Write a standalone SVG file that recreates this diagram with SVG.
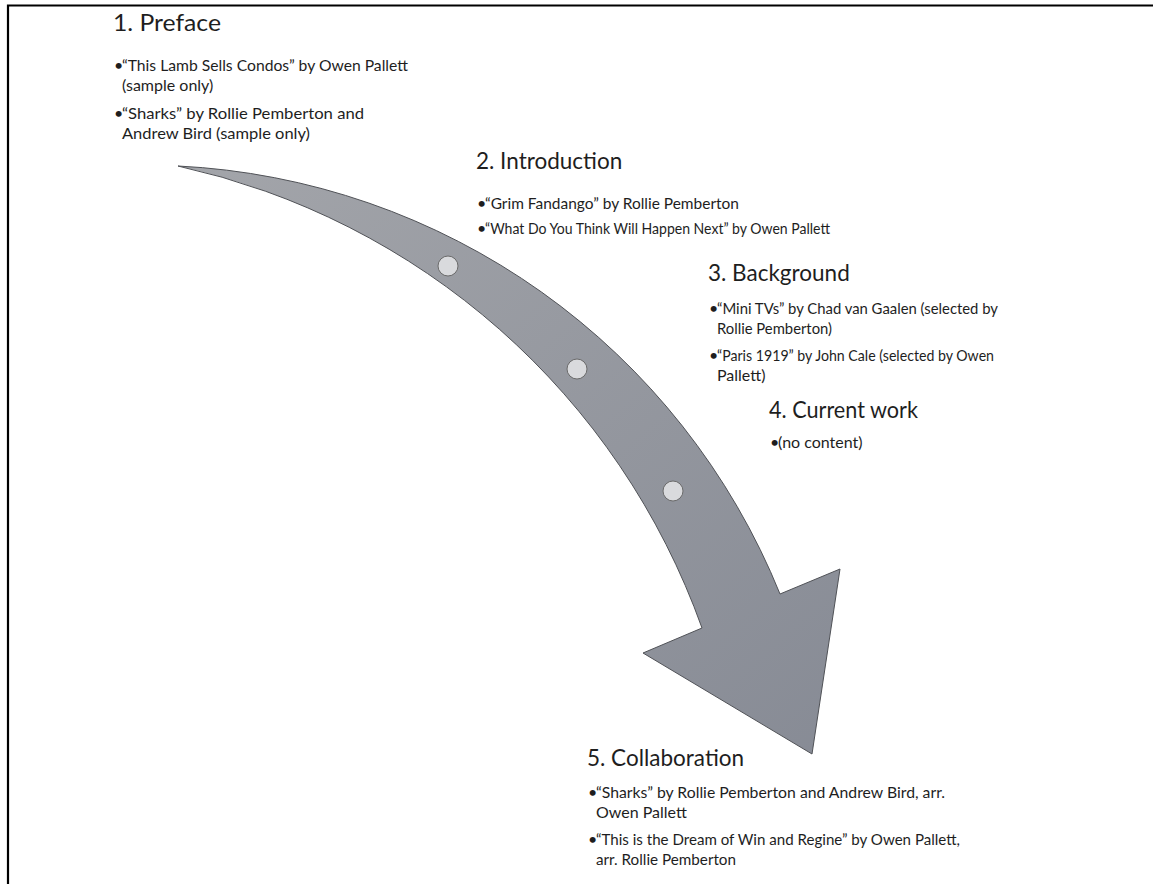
<svg xmlns="http://www.w3.org/2000/svg" width="1153" height="884" viewBox="0 0 1153 884">
<defs>
<linearGradient id="g" x1="0" y1="0" x2="1" y2="1">
<stop offset="0" stop-color="#a3a5aa"/>
<stop offset="1" stop-color="#878b95"/>
</linearGradient>
<style>
.t{font-family:Lato,"Liberation Sans",sans-serif;font-size:22.5px;fill:#1e1e1e}
.b{font-family:Lato,"Liberation Sans",sans-serif;font-size:16px;fill:#1e1e1e}
.s{font-size:15.2px}
.dot{fill:#d9dadd;stroke:#6b6b6b;stroke-width:1}
</style>
</defs>
<rect width="1153" height="884" fill="#fff"/>
<path d="M8,884 V5.5 H1153" fill="none" stroke="#000" stroke-width="2.2"/>
<g id="connectors">
<path id="arrow" d="M178,166 A686,686 0 0 1 780,594 L840,569 L812,754 L643,653 L702,628 A722,722 0 0 0 178,166 Z" fill="url(#g)" stroke="#505257" stroke-width="1"/>
<circle class="dot" cx="448" cy="266" r="10"/>
<circle class="dot" cx="577" cy="369" r="10"/>
<circle class="dot" cx="673" cy="491" r="10"/>
</g>
<g id="n1">
<text class="t" x="113" y="31" textLength="108" lengthAdjust="spacingAndGlyphs">1. Preface</text>
<text class="b" x="114" y="71">•</text><text class="b" x="122" y="71" textLength="286" lengthAdjust="spacingAndGlyphs">“This Lamb Sells Condos” by Owen Pallett</text>
<text class="b" x="122" y="91">(sample only)</text>
<text class="b" x="114" y="119">•</text><text class="b" x="122" y="119" textLength="242" lengthAdjust="spacingAndGlyphs">“Sharks” by Rollie Pemberton and</text>
<text class="b" x="122" y="139" textLength="188" lengthAdjust="spacingAndGlyphs">Andrew Bird (sample only)</text>
</g>
<g id="n2">
<text class="t" x="476" y="169">2. Introduction</text>
<text class="b" x="477" y="209">•</text><text class="b" x="485" y="209" textLength="254" lengthAdjust="spacingAndGlyphs">“Grim Fandango” by Rollie Pemberton</text>
<text class="b" x="477" y="234">•</text><text class="b s" x="485" y="234" textLength="345" lengthAdjust="spacingAndGlyphs">“What Do You Think Will Happen Next” by Owen Pallett</text>
</g>
<g id="n3">
<text class="t" x="708" y="281">3. Background</text>
<text class="b" x="709" y="314">•</text><text class="b s" x="717" y="314" textLength="281" lengthAdjust="spacingAndGlyphs">“Mini TVs” by Chad van Gaalen (selected by</text>
<text class="b" x="717" y="334" textLength="115" lengthAdjust="spacingAndGlyphs">Rollie Pemberton)</text>
<text class="b" x="709" y="361">•</text><text class="b s" x="717" y="361" textLength="277" lengthAdjust="spacingAndGlyphs">“Paris 1919” by John Cale (selected by Owen</text>
<text class="b" x="717" y="381">Pallett)</text>
</g>
<g id="n4">
<text class="t" x="769" y="418" textLength="149" lengthAdjust="spacingAndGlyphs">4. Current work</text>
<text class="b" x="770" y="448">•</text><text class="b" x="778" y="448">(no content)</text>
</g>
<g id="n5">
<text class="t" x="587" y="766">5. Collaboration</text>
<text class="b" x="588" y="798">•</text><text class="b" x="596" y="798" textLength="349" lengthAdjust="spacingAndGlyphs">“Sharks” by Rollie Pemberton and Andrew Bird, arr.</text>
<text class="b" x="596" y="818">Owen Pallett</text>
<text class="b" x="588" y="845">•</text><text class="b s" x="596" y="845" textLength="364" lengthAdjust="spacingAndGlyphs">“This is the Dream of Win and Regine” by Owen Pallett,</text>
<text class="b" x="596" y="865" textLength="140" lengthAdjust="spacingAndGlyphs">arr. Rollie Pemberton</text>
</g>
</svg>
